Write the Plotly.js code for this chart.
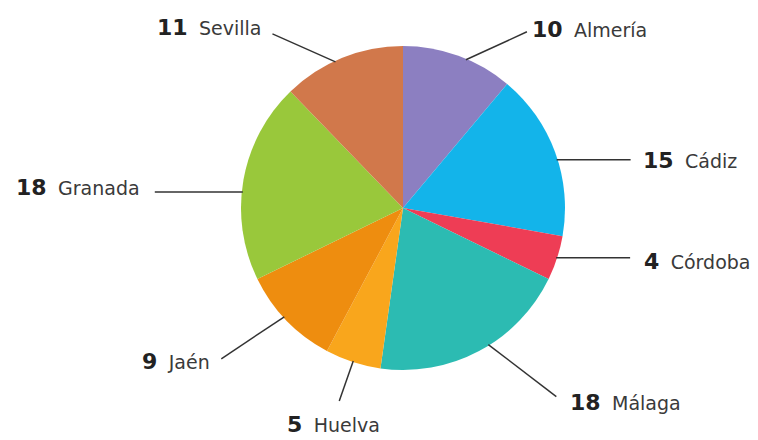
<!DOCTYPE html>
<html>
<head>
<meta charset="utf-8">
<script src="https://cdn.plot.ly/plotly-3.0.1.min.js"></script>
<style>html,body{margin:0;padding:0;background:#fff;}#chart{width:758px;height:440px;}</style>
</head>
<body>
<div id="chart"></div>
<script>
// ---- data ----
const provinces = ['Almería', 'Cádiz', 'Córdoba', 'Málaga', 'Huelva', 'Jaén', 'Granada', 'Sevilla'];
const counts = [10, 15, 4, 18, 5, 9, 18, 11];

// ---- styles ----
const sliceColors = ['#8c7fc1', '#13b4ea', '#ee3d55', '#2cbbb2', '#f9a61c', '#ee8d0f', '#99c83b', '#d1784b'];
// leader line: angle tweak (deg), offset of outer end (px), text offset from outer end (px), anchor
const leader = [
  {tw: 3,  dx: 61,  dy: -28, tx: 3,   ty: -2, anchor: 'left'},
  {tw: 2.6, dx: 74, dy: 0,   tx: 10,  ty: 1,  anchor: 'left'},
  {tw: 0,  dx: 74,  dy: 0,   tx: 12,  ty: 4,  anchor: 'left'},
  {tw: -4, dx: 68,  dy: 52,  tx: 12,  ty: 6,  anchor: 'left'},
  {tw: 0,  dx: -14, dy: 40,  tx: -6,  ty: 23, anchor: 'center'},
  {tw: 1.5, dx: -63, dy: 42, tx: -9,  ty: 3,  anchor: 'right'},
  {tw: -4.3, dx: -88, dy: 0, tx: -13, ty: -5, anchor: 'right'},
  {tw: -2.8, dx: -63, dy: -28, tx: -8, ty: -6, anchor: 'right'}
];

const W = 758, H = 440;
const M = {l: 48, r: 0, t: 46, b: 70};
const pw = W - M.l - M.r, ph = H - M.t - M.b;
const cx = M.l + pw / 2, cy = M.t + ph / 2, R = Math.min(pw, ph) / 2;
const toPX = px => (px - M.l) / pw;
const toPY = py => 1 - (py - M.t) / ph;

const total = counts.reduce((a, b) => a + b, 0);
const shapes = [], annotations = [];
let cum = 0;
counts.forEach((v, i) => {
  const mid = (cum + v / 2) / total * 360 + leader[i].tw;
  cum += v;
  const a = mid * Math.PI / 180;
  const ix = cx + (R - 1) * Math.sin(a), iy = cy - (R - 1) * Math.cos(a);
  const ox = ix + leader[i].dx, oy = iy + leader[i].dy;
  shapes.push({type: 'line', xref: 'paper', yref: 'paper',
    x0: toPX(ix), y0: toPY(iy), x1: toPX(ox), y1: toPY(oy),
    line: {color: '#333333', width: 1.5}});
  annotations.push({xref: 'paper', yref: 'paper',
    x: toPX(ox + leader[i].tx), y: toPY(oy + leader[i].ty),
    xanchor: leader[i].anchor, yanchor: 'middle', showarrow: false,
    text: '<b>' + v + '</b>&nbsp;&#8201;<span style="font-size:19px;color:#3a3a3a">' + provinces[i] + '</span>',
    font: {family: '"DejaVu Sans", sans-serif', size: 22, color: '#222222'}});
});

const trace = {
  type: 'pie',
  labels: provinces,
  values: counts,
  sort: false,
  direction: 'clockwise',
  rotation: 0,
  textinfo: 'none',
  hoverinfo: 'label+value',
  marker: {colors: sliceColors, line: {width: 0}},
  showlegend: false
};

const layout = {
  width: W, height: H,
  margin: M,
  paper_bgcolor: '#ffffff',
  plot_bgcolor: '#ffffff',
  showlegend: false,
  shapes: shapes,
  annotations: annotations
};

Plotly.newPlot('chart', [trace], layout, {displayModeBar: false, staticPlot: true});
</script>
</body>
</html>
